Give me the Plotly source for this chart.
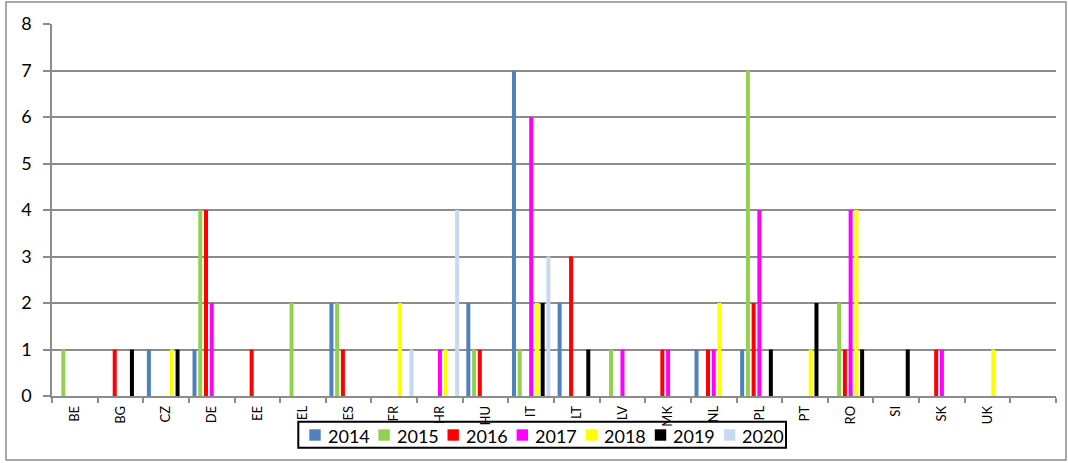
import plotly.graph_objects as go

# categories (countries) and yearly counts
countries = ["BE", "BG", "CZ", "DE", "EE", "EL", "ES", "FR", "HR", "HU", "IT",
             "LT", "LV", "MK", "NL", "PL", "PT", "RO", "SI", "SK", "UK"]
years = ["2014", "2015", "2016", "2017", "2018", "2019", "2020"]

v2014 = [0, 0, 1, 1, 0, 0, 2, 0, 0, 2, 7, 2, 0, 0, 1, 1, 0, 0, 0, 0, 0]
v2015 = [1, 0, 0, 4, 0, 2, 2, 0, 0, 1, 1, 0, 1, 0, 0, 7, 0, 2, 0, 0, 0]
v2016 = [0, 1, 0, 4, 1, 0, 1, 0, 0, 1, 0, 3, 0, 1, 1, 2, 0, 1, 0, 1, 0]
v2017 = [0, 0, 0, 2, 0, 0, 0, 0, 1, 0, 6, 0, 1, 1, 1, 4, 0, 4, 0, 1, 0]
v2018 = [0, 0, 1, 0, 0, 0, 0, 2, 1, 0, 2, 0, 0, 0, 2, 0, 1, 4, 0, 0, 1]
v2019 = [0, 1, 1, 0, 0, 0, 0, 0, 0, 0, 2, 1, 0, 0, 0, 1, 2, 1, 1, 0, 0]
v2020 = [0, 0, 0, 0, 0, 0, 0, 1, 4, 0, 3, 0, 0, 0, 0, 0, 0, 0, 0, 0, 0]

series = [v2014, v2015, v2016, v2017, v2018, v2019, v2020]
colors = ["#4F81BD", "#92D050", "#FF0000", "#FF00FF", "#FFFF00", "#000000", "#C6D9F1"]

FONT = "Lato, Liberation Sans, Arial, sans-serif"
GRID = "#8C8C8C"

# plot area in pixels (used to place the frame and legend box)
L, T, W, H = 52, 24, 1004, 372


def px_x(x):
    return (x - L) / W


def px_y(y):
    return (T + H - y) / H


fig = go.Figure()
for year, vals, col in zip(years, series, colors):
    fig.add_trace(go.Bar(x=countries, y=vals, name=year, showlegend=False,
                         marker=dict(color=col, line=dict(width=0))))

shapes = [
    # outer chart frame
    dict(type="rect", xref="paper", yref="paper",
         x0=px_x(6), x1=px_x(1066), y0=px_y(460), y1=px_y(2),
         line=dict(color=GRID, width=1.5), layer="below"),
    # legend box (below so the long x labels run over it, as in the original)
    dict(type="rect", xref="paper", yref="paper",
         x0=px_x(298.3), x1=px_x(786), y0=px_y(447.7), y1=px_y(421.7),
         line=dict(color="black", width=2), layer="below"),
]
annotations = []
for k, (year, col) in enumerate(zip(years, colors)):
    left = 309.3 + 69.1 * k
    shapes.append(dict(type="rect", xref="paper", yref="paper",
                       x0=px_x(left), x1=px_x(left + 11.4),
                       y0=px_y(440.7), y1=px_y(429.3),
                       line=dict(width=0), fillcolor=col, layer="below"))
    annotations.append(dict(text=year, xref="paper", yref="paper",
                            x=px_x(left + 16.5), y=px_y(435.5),
                            xanchor="left", yanchor="middle", showarrow=False,
                            font=dict(size=18, family=FONT, color="black")))

fig.update_layout(
    width=1068, height=463,
    margin=dict(l=L, r=1068 - L - W, t=T, b=463 - T - H),
    paper_bgcolor="white", plot_bgcolor="white",
    barmode="group", bargap=0.12, bargroupgap=0.3,
    font=dict(family=FONT, color="black"),
    showlegend=False,
    shapes=shapes,
    annotations=annotations,
)

fig.update_xaxes(
    type="category", categoryorder="array", categoryarray=countries + [" "],
    range=[-0.5, 21.5], tickangle=-90, tickfont=dict(size=13, family=FONT),
    showline=True, linecolor=GRID, linewidth=1.5,
    ticks="outside", tickson="boundaries", ticklen=5, tickcolor=GRID, tickwidth=1.5,
    showgrid=False, automargin=False, ticklabelstandoff=3,
)
fig.update_yaxes(
    range=[0, 8], dtick=1, tickfont=dict(size=18, family=FONT),
    showline=True, linecolor=GRID, linewidth=1.5,
    ticks="outside", ticklen=7, tickcolor=GRID, tickwidth=1.5,
    showgrid=True, gridcolor=GRID, gridwidth=1.5, zeroline=False,
    ticklabelstandoff=8, automargin=False,
)

fig.write_html("out.html", config={"displayModeBar": False},
               post_script="document.body.style.margin='0';")
